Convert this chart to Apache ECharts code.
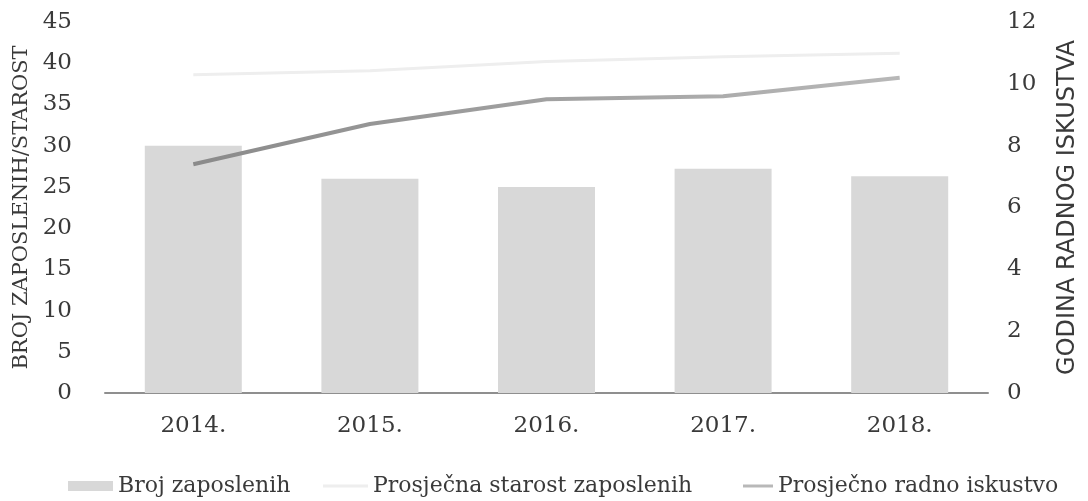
<!DOCTYPE html>
<html>
<head>
<meta charset="utf-8">
<script src="https://cdn.jsdelivr.net/npm/echarts@6/dist/echarts.min.js"></script>
<style>
    html, body { margin: 0; padding: 0; background: #fff; }
    #echarts-main { width: 1088px; height: 501px; }
</style>
</head>
<body>
<div id="echarts-main"></div>
<script>
    // podaci
    const godine = ['2014.', '2015.', '2016.', '2017.', '2018.']
    const brojZaposlenih = [30, 26, 25, 27.2, 26.3]
    const prosjecnaStarost = [38.6, 39.1, 40.2, 40.8, 41.2]
    const radnoIskustvo = [7.4, 8.7, 9.5, 9.6, 10.2]

    const serif = 'DejaVu Serif'
    const txt = '#3a3a3a'

    let myChart = echarts.init(document.getElementById('echarts-main'))

    const option = {
        animation: false,
        grid: {
            left: 105,
            right: 92,
            top: 22,
            bottom: 108
        },
        xAxis: {
            type: 'category',
            data: godine,
            axisLine: { lineStyle: { color: '#8f8f8f', width: 2 } },
            axisTick: { show: false },
            axisLabel: { color: txt, fontFamily: serif, fontSize: 23, margin: 22 }
        },
        yAxis: [
            {
                type: 'value',
                min: 0,
                max: 45,
                interval: 5,
                name: 'BROJ ZAPOSLENIH/STAROST',
                nameLocation: 'middle',
                nameGap: 70,
                nameTextStyle: { color: txt, fontFamily: serif, fontSize: 21 },
                splitLine: { show: false },
                axisLine: { show: false },
                axisTick: { show: false },
                axisLabel: { color: txt, fontFamily: serif, fontSize: 23, margin: 33 }
            },
            {
                type: 'value',
                min: 0,
                max: 12,
                interval: 2,
                name: 'GODINA RADNOG ISKUSTVA',
                nameLocation: 'middle',
                nameRotate: 90,
                nameGap: 68,
                nameTextStyle: { color: txt, fontFamily: 'DejaVu Sans', fontSize: 24 },
                splitLine: { show: false },
                axisLine: { show: false },
                axisTick: { show: false },
                axisLabel: { color: txt, fontFamily: serif, fontSize: 23, margin: 19 }
            }
        ],
        legend: [
            {
                data: [{ name: 'Broj zaposlenih', icon: 'rect' }],
                left: 63, top: 470,
                itemWidth: 45, itemHeight: 10, itemGap: 5,
                textStyle: { color: txt, fontFamily: serif, fontSize: 22 }
            },
            {
                data: [{ name: 'Prosječna starost zaposlenih', icon: 'rect' }],
                left: 318, top: 470,
                itemWidth: 45, itemHeight: 3,
                textStyle: { color: txt, fontFamily: serif, fontSize: 22 }
            },
            {
                data: [{ name: 'Prosječno radno iskustvo', icon: 'rect' }],
                left: 738, top: 470,
                itemWidth: 30, itemHeight: 3,
                textStyle: { color: txt, fontFamily: serif, fontSize: 22 }
            }
        ],
        series: [
            {
                name: 'Broj zaposlenih',
                type: 'bar',
                data: brojZaposlenih,
                barWidth: 97,
                itemStyle: { color: '#d8d8d8' }
            },
            {
                name: 'Prosječna starost zaposlenih',
                type: 'line',
                data: prosjecnaStarost,
                symbol: 'none',
                lineStyle: { color: '#eeeeee', width: 3 },
                itemStyle: { color: '#eeeeee' }
            },
            {
                name: 'Prosječno radno iskustvo',
                type: 'line',
                yAxisIndex: 1,
                data: radnoIskustvo,
                symbol: 'none',
                lineStyle: {
                    width: 4,
                    color: new echarts.graphic.LinearGradient(0, 0, 1, 0, [
                        { offset: 0, color: '#8a8a8a' },
                        { offset: 1, color: '#b8b8b8' }
                    ])
                },
                itemStyle: { color: '#b8b8b8' }
            }
        ]
    }

    myChart.setOption(option)
</script>
</body>
</html>
